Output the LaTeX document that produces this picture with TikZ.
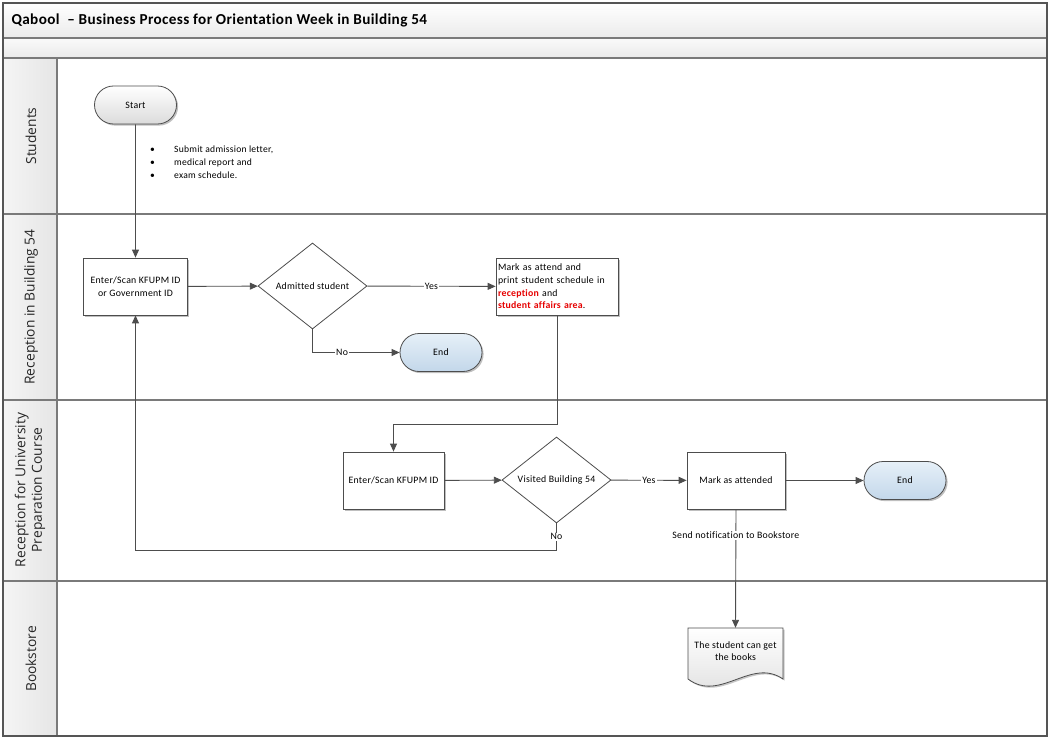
\documentclass[tikz,border=0pt]{standalone}
\usepackage{fontspec}
\setmainfont{Carlito}[Ligatures=NoCommon, LetterSpace=2.5]
\newfontfamily\lanefont{Open Sans}
\usetikzlibrary{arrows.meta,shapes.geometric,shapes.misc,shadows}
\definecolor{framegray}{HTML}{7A7A7A}
\definecolor{bordergray}{HTML}{555555}
\definecolor{linegray}{HTML}{4D4D4D}
\definecolor{endtop}{HTML}{E6F0F8}
\definecolor{endbot}{HTML}{C3D7EA}
\definecolor{redtxt}{HTML}{E60000}
\begin{document}
\begin{tikzpicture}[x=1pt,y=-1pt,
  font=\fontsize{9.8}{12.6}\selectfont,
  frame/.style={draw=framegray, line width=1.6pt},
  conn/.style={draw=linegray, line width=0.9pt},
  arr/.style={conn, -{Triangle[length=8pt,width=7pt]}},
  shad/.style={drop shadow={shadow xshift=1.6pt, shadow yshift=-1.6pt, opacity=0.25, fill=black}},
  proc/.style={draw=linegray, line width=0.8pt, fill=white, shad, align=center, inner sep=2pt},
  dec/.style={diamond, draw=linegray, line width=0.8pt, fill=white, minimum width=109pt, minimum height=86pt, inner sep=0pt, align=center},
  term/.style={rounded rectangle, draw=linegray, line width=0.8pt, shad, minimum width=82pt, minimum height=38pt, inner sep=0pt},
  startterm/.style={term, top color=white, bottom color=black!14},
  endterm/.style={term, top color=endtop, bottom color=endbot},
  lbl/.style={fill=white, inner sep=1pt},
  lanelabel/.style={rotate=90, font=\lanefont\fontsize{13.8}{16.5}\selectfont, align=center, text=black!85}
]
\useasboundingbox (0,0) rectangle (1050,738);
\fill[white] (0,0) rectangle (1050,738);
% header bars
\shade[top color=white, bottom color=black!8] (3,3) rectangle (1047,38);
\shade[top color=black!2, bottom color=black!8] (3,38) rectangle (1047,58);
\shade[left color=black!4, right color=black!10] (3,58) rectangle (57,736);
\draw[frame] (3,38) -- (1047,38);
\draw[frame] (3,58) -- (1047,58);
\draw[frame] (3,214) -- (1047,214);
\draw[frame] (3,400) -- (1047,400);
\draw[frame] (3,581) -- (1047,581);
\draw[frame] (57,58) -- (57,736);
\draw[draw=bordergray, line width=1.6pt] (3,3) rectangle (1047,736);
\node[anchor=west, font=\bfseries\fontsize{15.2}{17}\selectfont] (title) at (8,20) {Qabool\ \ -- Business Process for Orientation Week in Building 54};
% lane labels
\node[lanelabel] (lstud) at (31,136) {Students};
\node[lanelabel] (lrec) at (31,307) {Reception in Building 54};
\node[lanelabel] (lprep) at (30,490) {Reception for University\\Preparation Course};
\node[lanelabel] (lbook) at (31,659) {Bookstore};
% nodes
\node[startterm] (start) at (135.5,105) {Start};
\node[anchor=north west, align=left, inner sep=0pt, font=\fontsize{9.6}{13}\selectfont] (notes) at (150,146)
  {\makebox[24pt][l]{\textbullet}Submit admission letter,\\
   \makebox[24pt][l]{\textbullet}medical report and\\
   \makebox[24pt][l]{\textbullet}exam schedule.};
\node[proc, minimum width=104pt, minimum height=57pt] (enter1) at (135.5,286.5) {Enter/Scan KFUPM ID\\or Government ID};
\node[dec] (adm) at (312.5,286) {Admitted student};
\node[proc, minimum width=122pt, minimum height=57pt, text width=118pt, align=left, inner sep=1.5pt] (mark1) at (557,286.5)
  {Mark as attend and\\print student schedule in\\{\color{redtxt}\bfseries reception} and\\{\color{redtxt}\bfseries student affairs area}.};
\node[endterm] (end1) at (441,352.5) {End};
\node[proc, minimum width=101pt, minimum height=57pt] (enter2) at (393.5,480.5) {Enter/Scan KFUPM ID};
\node[dec] (vis) at (556.5,480) {Visited Building 54};
\node[proc, minimum width=98pt, minimum height=57pt] (mark2) at (736,480.5) {Mark as attended};
\node[endterm] (end2) at (905,480.5) {End};
% document shape
\fill[black, opacity=0.22] (689.6,629.6) -- (784.6,629.6) -- (784.6,680.6) .. controls (752.6,658.6) and (721.6,704.6) .. (689.6,680.6) -- cycle;
\shade[top color=white, bottom color=black!13, draw=linegray, line width=0.8pt] (688,628) -- (783,628) -- (783,679) .. controls (751,657) and (720,703) .. (688,679) -- cycle;
\node[minimum width=95pt, minimum height=46pt, inner sep=0pt, align=center] (doc) at (735.5,651) {The student can get\\the books};
% connectors
\coordinate (turn1) at (557,424);
\coordinate (turn2) at (556.5,550);
\draw[arr] (start) -- (enter1);
\draw[arr] (enter1) -- (adm);
\draw[arr] (adm) -- node[lbl] {Yes} (mark1);
\draw[arr] (adm.south) |- node[lbl, pos=0.67] {No} (end1.west);
\draw[arr] (mark1.south) -- (turn1) -| (enter2.north);
\draw[arr] (enter2) -- (vis);
\draw[arr] (vis) -- node[lbl] {Yes} (mark2);
\draw[arr] (mark2) -- (end2);
\draw[arr] (vis.south) -- node[lbl] {No} (turn2) -| (enter1.south);
\draw[arr] (mark2.south) -- node[lbl, pos=0.22] {Send notification to Bookstore} (doc.north);
\end{tikzpicture}
\end{document}
